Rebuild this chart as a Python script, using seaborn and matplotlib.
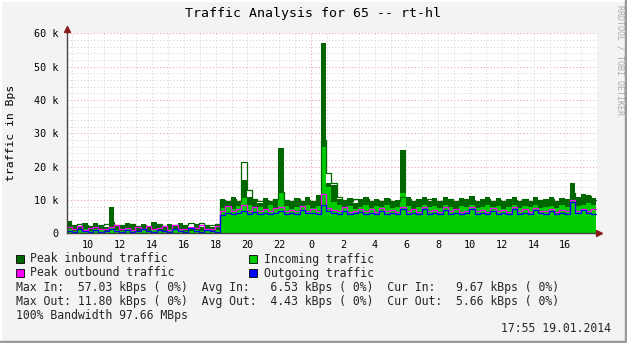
import numpy as np
import pandas as pd
import matplotlib
matplotlib.use("Agg")
import matplotlib.pyplot as plt
from matplotlib.patches import Rectangle
from matplotlib.lines import Line2D
import seaborn as sns

# ---- data (values in kBps, 20-minute bins starting 08:37 on day 1) ----
start_hour = 8.62
bin_hours = 1 / 3

incoming = [1.2, 0.8, 1.0, 1.4, 0.6, 1.2, 0.9, 0.7, 1.5, 1.0, 0.8, 1.2, 0.9, 0.6, 1.1,
            0.8, 1.3, 1.0, 0.7, 1.2, 0.9, 1.1, 0.8, 0.6, 1.0, 0.7, 0.9, 0.6, 1.0,
            7.6, 8.0, 7.4, 8.2, 10.5, 8.6, 7.8, 8.0, 7.2, 8.4, 7.6,
            12.0, 8.2, 7.4, 8.0, 7.8, 8.6, 7.6, 8.2, 26.0, 14.0,
            9.5, 8.4, 7.8, 8.2, 7.4, 8.0, 8.6, 7.6, 8.2, 7.8,
            8.4, 7.6, 8.0, 12.0, 8.2, 7.4, 8.0, 8.6, 7.8, 8.2,
            7.6, 8.4, 8.0, 7.4, 8.2, 7.8, 8.6, 7.6, 8.0, 8.4,
            7.8, 8.2, 7.4, 8.0, 8.6, 7.6, 8.2, 7.8, 8.4, 7.6,
            8.0, 8.2, 7.6, 8.4, 7.8, 10.0, 8.2, 8.6, 9.0, 8.4]

peak_in = [3.8, 2.6, 2.2, 3.0, 2.0, 3.2, 2.4, 1.8, 7.9, 2.6, 2.2, 3.0, 2.4, 1.9, 2.8,
           2.2, 3.4, 2.6, 2.0, 2.8, 2.4, 3.0, 2.2, 2.0, 2.6, 1.8, 2.4, 2.0, 2.6,
           10.2, 9.6, 10.8, 9.4, 16.0, 11.0, 10.4, 9.2, 10.6, 9.8, 10.2,
           25.5, 10.0, 9.4, 10.6, 9.8, 10.8, 9.6, 11.6, 57.0, 15.0,
           14.5, 10.4, 9.8, 10.6, 9.2, 10.2, 11.0, 9.6, 10.4, 9.8,
           10.6, 9.4, 10.0, 25.0, 11.0, 9.6, 10.4, 10.8, 9.8, 10.6,
           9.6, 10.8, 10.2, 9.4, 10.6, 10.0, 11.2, 9.8, 10.4, 10.8,
           9.8, 10.6, 9.6, 10.2, 11.0, 9.8, 10.4, 9.6, 10.8, 10.0,
           10.4, 10.8, 9.8, 10.6, 10.2, 15.2, 11.0, 11.8, 11.4, 10.6]

peak_in_line = [2.0, 2.4, 2.8, 2.6, 2.2, 2.0, 2.4, 2.8, 3.4, 2.6, 2.4, 2.0, 2.8, 2.2, 2.6,
                2.0, 2.4, 2.8, 2.2, 2.6, 2.4, 2.0, 2.6, 3.0, 2.8, 3.0, 2.6, 2.4, 2.8,
                10.0, 9.6, 10.2, 9.8, 21.5, 13.0, 10.4, 9.8, 10.0, 9.6, 10.2,
                12.5, 10.0, 9.8, 10.4, 9.6, 10.0, 9.8, 10.6, 28.0, 18.0,
                15.0, 11.0, 10.0, 9.6, 10.2, 9.8, 10.4, 9.6, 10.0, 9.8,
                10.2, 9.6, 9.8, 11.0, 10.2, 9.6, 10.0, 9.8, 10.4, 9.8,
                9.6, 10.0, 10.2, 9.8, 9.6, 10.2, 10.0, 9.4, 9.8, 10.2,
                9.6, 10.0, 9.8, 9.4, 10.0, 9.6, 10.2, 9.8, 9.6, 10.0,
                9.8, 10.2, 9.6, 10.0, 9.8, 12.0, 10.4, 10.8, 11.2, 10.0]

peak_out = [1.8, 1.2, 2.2, 1.0, 1.6, 2.0, 1.2, 1.4, 1.8, 2.4, 1.2, 1.6, 1.0, 2.0, 1.4,
            2.2, 1.2, 1.6, 2.2, 1.0, 2.4, 1.4, 1.2, 2.0, 1.6, 2.6, 1.2, 1.4, 2.2,
            6.8, 8.2, 6.6, 7.4, 8.4, 6.8, 7.8, 6.6, 7.2, 6.8, 7.6,
            8.0, 6.6, 7.0, 6.8, 8.2, 6.6, 7.2, 6.8, 11.8, 7.6,
            7.0, 6.6, 7.8, 6.4, 6.8, 7.4, 6.6, 7.2, 6.4, 7.6,
            6.6, 7.0, 6.4, 7.8, 6.6, 7.2, 6.4, 7.8, 6.6, 7.0,
            6.4, 8.0, 6.6, 7.2, 6.4, 6.8, 7.8, 6.6, 7.0, 6.4,
            7.6, 6.6, 7.0, 6.4, 7.8, 6.6, 7.2, 6.4, 7.6, 6.8,
            6.6, 7.4, 6.4, 7.0, 6.6, 10.0, 6.8, 7.4, 6.8, 7.2]

outgoing = [0.8, 0.4, 1.2, 0.6, 0.3, 1.0, 0.5, 0.8, 1.2, 0.6, 0.4, 1.0, 0.5, 0.8, 1.4,
            0.6, 0.4, 1.0, 0.8, 0.3, 1.2, 0.6, 0.5, 1.5, 0.8, 0.4, 1.0, 0.6, 0.5,
            5.6, 6.0, 5.8, 6.2, 6.6, 5.8, 6.4, 5.9, 6.1, 5.8, 6.2,
            6.8, 5.9, 6.1, 5.8, 7.0, 6.0, 6.2, 5.8, 8.4, 6.6,
            6.2, 5.8, 6.8, 5.7, 6.0, 6.4, 5.8, 6.1, 5.7, 6.6,
            5.9, 6.1, 5.7, 7.2, 5.9, 6.2, 5.7, 7.4, 5.8, 6.1,
            5.7, 7.0, 5.9, 6.2, 5.8, 6.0, 7.2, 5.8, 6.1, 5.7,
            6.8, 5.9, 6.1, 5.7, 7.4, 5.8, 6.2, 5.7, 7.0, 6.0,
            5.8, 6.6, 5.7, 6.2, 5.9, 9.4, 6.0, 7.0, 6.2, 5.7]

y_ticks = [0, 10, 20, 30, 40, 50, 60]
y_tick_labels = ["0", "10 k", "20 k", "30 k", "40 k", "50 k", "60 k"]
x_ticks = list(range(10, 42, 2))
x_tick_labels = [str(h % 24) for h in x_ticks]

title = "Traffic Analysis for 65 -- rt-hl"
legend_items = [("Peak inbound traffic", "#006600"), ("Incoming traffic", "#00CC00"),
                ("Peak outbound traffic", "#FF00FF"), ("Outgoing traffic", "#0000FF")]
stats_lines = [
    "Max In:  57.03 kBps ( 0%)  Avg In:   6.53 kBps ( 0%)  Cur In:   9.67 kBps ( 0%)",
    "Max Out: 11.80 kBps ( 0%)  Avg Out:  4.43 kBps ( 0%)  Cur Out:  5.66 kBps ( 0%)",
    "100% Bandwidth 97.66 MBps",
]
timestamp = "17:55 19.01.2014"

# ---- build table ----
n = len(incoming)
edges = start_hour + np.arange(n + 1) * bin_hours
def padded(v):
    return np.append(np.asarray(v, float) * 1000, v[-1] * 1000)

df = pd.DataFrame({
    "t": edges,
    "incoming": padded(incoming),
    "peak_in": padded(peak_in),
    "peak_in_line": padded(peak_in_line),
    "peak_out": padded(peak_out),
    "outgoing": padded(outgoing),
})

sns.set_style("white")
plt.rcParams["font.family"] = ["DejaVu Sans Mono"]

W, H = 627, 343
fig = plt.figure(figsize=(W / 100, H / 100), dpi=100, facecolor="#F3F3F3")

def fx(px):
    return px / W
def fy(py):
    return 1 - py / H

x0, x1 = 66.5, 597.0
ytop, ybot = 33.3, 233.3
ax = fig.add_axes([fx(x0), fy(ybot), fx(x1) - fx(x0), (ybot - ytop) / H])
ax.set_facecolor("white")

px_per_hour = 15.9
xmin = 24 - (311 - x0) / px_per_hour
xmax = 24 + (x1 - 311) / px_per_hour
ax.set_xlim(xmin, xmax)
ax.set_ylim(0, 60000)

# grid
for v in range(0, 61000, 2000):
    major = v % 10000 == 0
    ax.axhline(v, color="#EBA3A3" if major else "#D6D6D6", lw=0.7,
               ls=(0, (1.2, 2.2)), zorder=0.5)
for h in range(9, 42):
    major = h == 24
    ax.axvline(h, color="#EBA3A3" if major else "#D6D6D6", lw=0.7,
               ls=(0, (1.2, 2.2)), zorder=0.5)

# areas
ax.fill_between(df["t"], 0, df["peak_in"], step="post", color="#006600", lw=0, zorder=1)
ax.fill_between(df["t"], 0, df["incoming"], step="post", color="#00CC00", lw=0, zorder=2)

# lines
sns.lineplot(data=df, x="t", y="peak_in_line", ax=ax, color="#006600", lw=0.9,
             drawstyle="steps-post", zorder=3, legend=False)
sns.lineplot(data=df, x="t", y="peak_out", ax=ax, color="#FF00FF", lw=0.9,
             drawstyle="steps-post", zorder=4, legend=False)
sns.lineplot(data=df, x="t", y="outgoing", ax=ax, color="#0000FF", lw=0.9,
             drawstyle="steps-post", zorder=5, legend=False)

ax.set_xlabel("")
ax.set_ylabel("")
for s in ["top", "right"]:
    ax.spines[s].set_visible(False)
for s in ["left", "bottom"]:
    ax.spines[s].set_color("#444444")
    ax.spines[s].set_linewidth(1.0)
    ax.spines[s].set_zorder(6)

ax.set_yticks([v * 1000 for v in y_ticks])
ax.set_yticklabels(y_tick_labels)
ax.set_xticks(x_ticks)
ax.set_xticklabels(x_tick_labels)
ax.tick_params(axis="both", labelsize=7.3, colors="#000000", length=2, width=0.8,
               pad=3, color="#444444")
ax.tick_params(axis="y", pad=4)

# arrows
ax.plot([xmin], [61400], marker="^", color="#8B1A1A", ms=4, clip_on=False, zorder=7)
ax.plot([xmax + 0.15], [0], marker=">", color="#8B1A1A", ms=4, clip_on=False, zorder=7)

# texts
fig.text(fx(313), fy(13), title, ha="center", va="center", fontsize=9.5, color="#000000")
fig.text(fx(11), fy(133), "traffic in Bps", rotation=90, ha="center", va="center",
         fontsize=8.2, color="#000000")
fig.text(fx(620), fy(60), "RRDTOOL / TOBI OETIKER", rotation=270, ha="center",
         va="center", fontsize=6.0, color="#AAAAAA")

rows = [(16, 259), (249, 259), (16, 273), (249, 273)]
for (label, color), (lx, ly) in zip(legend_items, rows):
    fig.patches.append(Rectangle((fx(lx), fy(ly + 4)), 8 / W, 8 / H, transform=fig.transFigure,
                                 facecolor=color, edgecolor="#000000", lw=0.6))
    fig.text(fx(lx + 14.5), fy(ly), label, ha="left", va="center", fontsize=8.3)

for i, line in enumerate(stats_lines):
    fig.text(fx(16.5), fy(287.3 + 14 * i), line, ha="left", va="center", fontsize=8.3)
fig.text(fx(611), fy(329), timestamp, ha="right", va="center", fontsize=8.3)

# 3D frame
fig.add_artist(Line2D([0, 1], [1 - 0.5 / H, 1 - 0.5 / H], transform=fig.transFigure, color="#FFFFFF", lw=1.5))
fig.add_artist(Line2D([0.5 / W, 0.5 / W], [0, 1], transform=fig.transFigure, color="#FFFFFF", lw=1.5))
fig.add_artist(Line2D([0, 1], [1.5 / H, 1.5 / H], transform=fig.transFigure, color="#9A9A9A", lw=2.5))
fig.add_artist(Line2D([1 - 1.5 / W, 1 - 1.5 / W], [0, 1], transform=fig.transFigure, color="#9A9A9A", lw=2.5))

fig.savefig("out.png", dpi=100, facecolor=fig.get_facecolor())
